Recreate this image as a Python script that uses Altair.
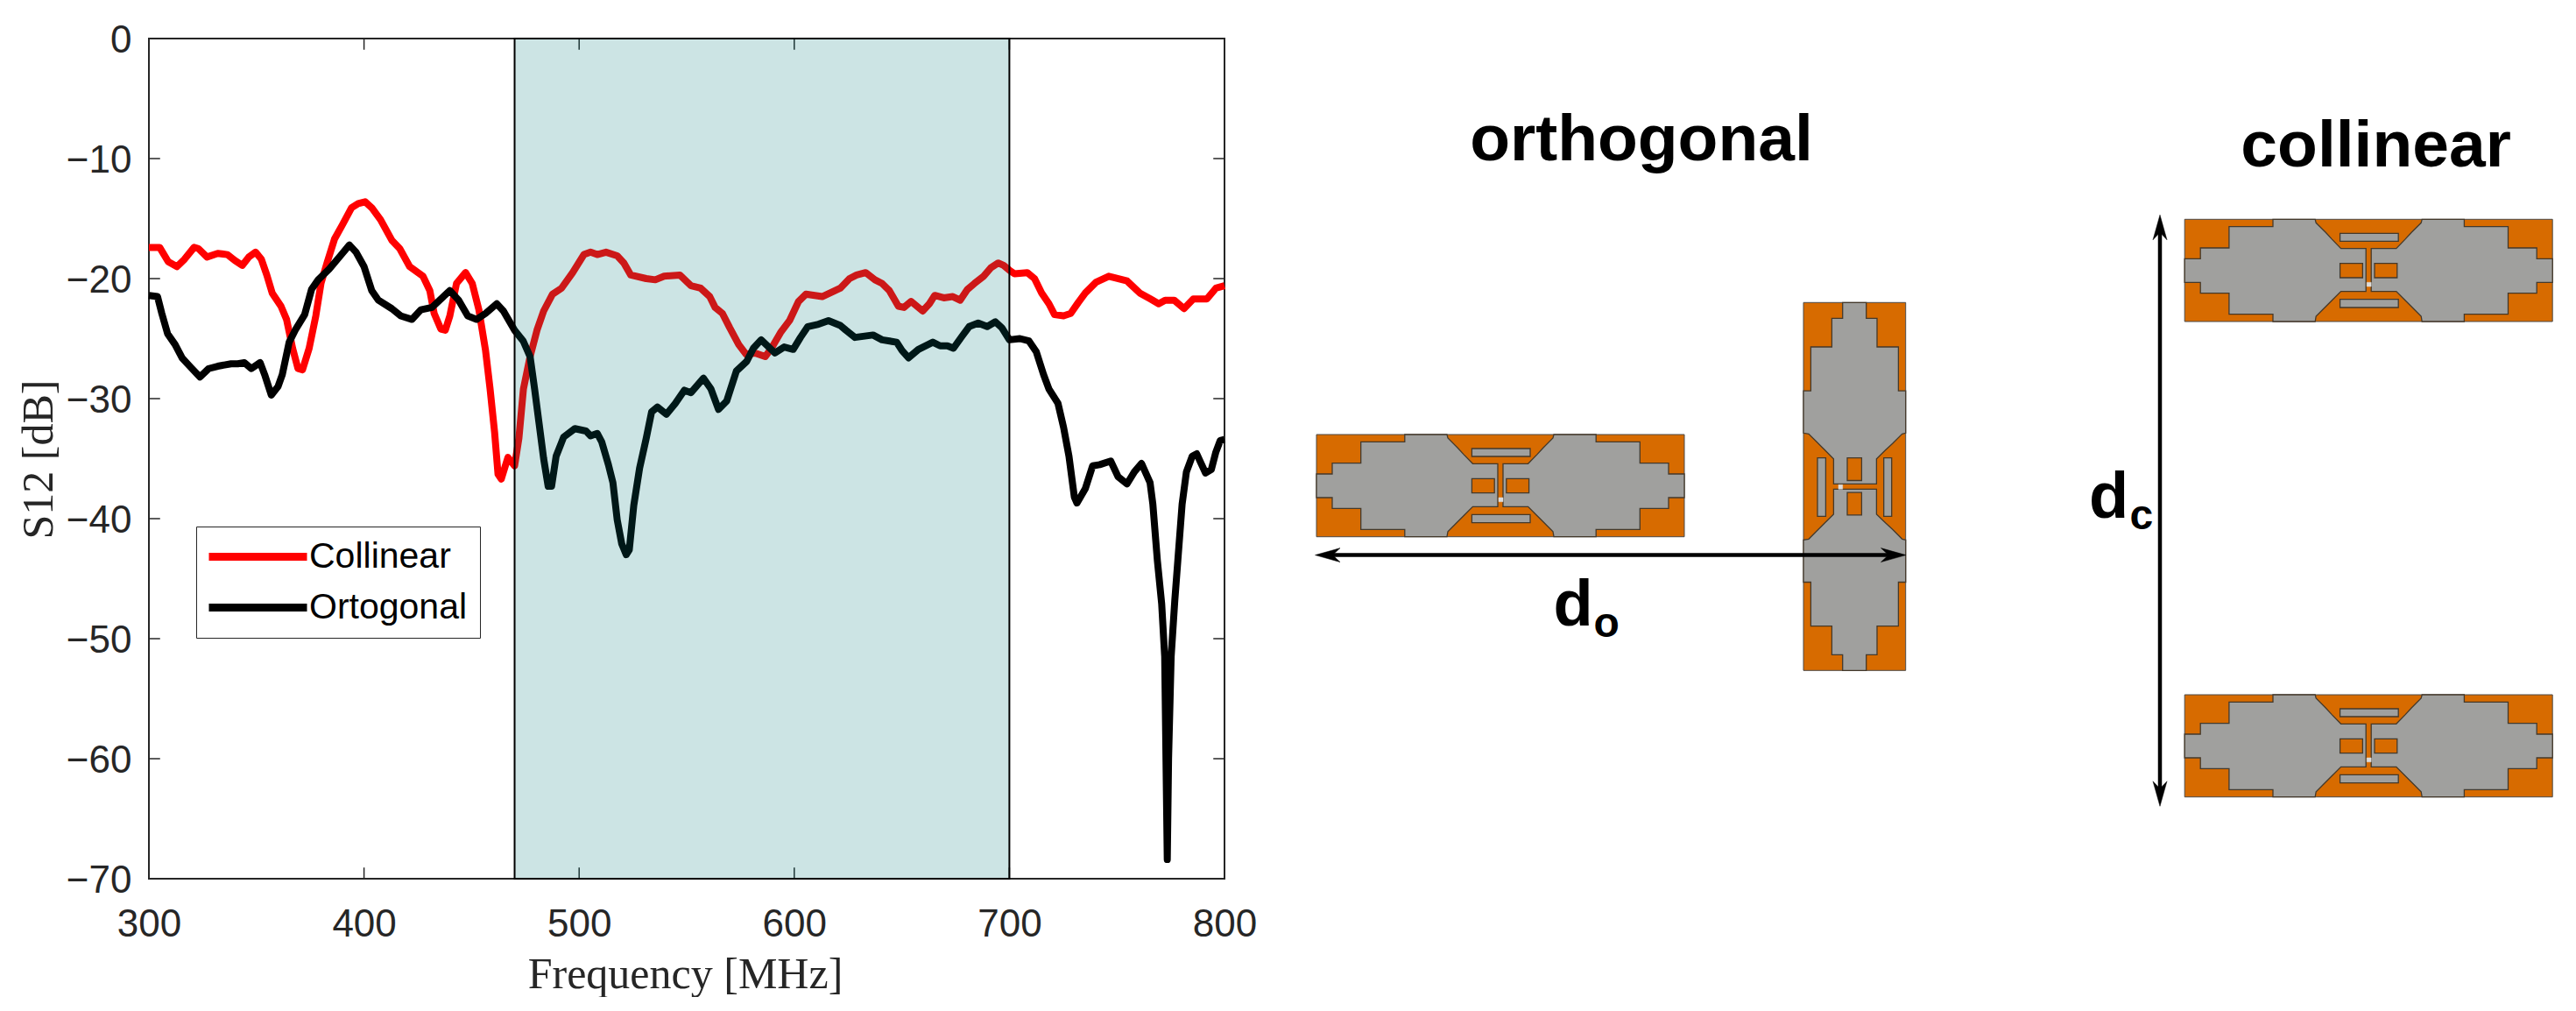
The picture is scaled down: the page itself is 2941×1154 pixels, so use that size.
import altair as alt
import pandas as pd

# ---------- measured curves ----------
col_f = [300,305,309,313,316.5,321,323,327,332,336.5,340,343.4,346.5,349.6,352.3,354.8,357.3,361.4,364,366.8,369.3,371.4,374.5,377.6,380,382.8,386.3,390,394.2,397.3,400.5,403.6,407.7,412.9,416.6,421.2,427.4,430.6,432.6,435.7,437.8,439.9,443,447.2,450.3,453.4,456.5,458.6,460.7,462.3,463.8,466.9,470,472,474.1,477.2,480.4,483.5,487.6,491.8,497,502.2,505.3,508.4,512.5,517.7,520.8,524,531.2,535.4,539.5,546.8,552,556.5,560.7,563.2,566.6,570,574.2,577.6,581.8,586.5,589.4,593.6,597.8,602,605.4,613,621.4,625.7,629,633.2,637.5,640.8,644.2,648.4,651,654.3,659.7,662.8,665.3,669.5,673.7,677.1,680.5,683.8,688,691.4,694.8,697.3,700,702.4,708.3,711.7,715,718.4,721,725.2,728.5,732,735.3,740.3,746.2,754.7,760.6,765.6,769.4,772.4,776.6,781.2,785.5,791.8,796,800]
col_db = [-17.4,-17.4,-18.6,-19.0,-18.4,-17.4,-17.5,-18.2,-17.9,-18.0,-18.5,-18.9,-18.2,-17.8,-18.4,-19.7,-21.2,-22.3,-23.4,-25.8,-27.5,-27.6,-25.8,-23.1,-20.4,-18.7,-16.7,-15.5,-14.1,-13.75,-13.6,-14.1,-15.1,-16.8,-17.5,-19.0,-19.8,-21,-22.9,-24.2,-24.3,-23.1,-20.4,-19.5,-20.4,-22.6,-26,-29.2,-32.8,-36.3,-36.7,-34.9,-35.6,-33.3,-29.2,-26.5,-24.3,-22.7,-21.3,-20.8,-19.5,-18,-17.8,-18,-17.8,-18.1,-18.7,-19.7,-20,-20.1,-19.8,-19.7,-20.6,-20.8,-21.5,-22.4,-22.9,-24.1,-25.5,-26.3,-26.2,-26.5,-25.8,-24.5,-23.5,-21.9,-21.3,-21.5,-20.8,-20,-19.7,-19.5,-20.1,-20.4,-21,-22.3,-22.4,-21.9,-22.7,-22.1,-21.4,-21.6,-21.5,-21.8,-20.9,-20.4,-19.8,-19.1,-18.7,-18.9,-19.3,-19.6,-19.5,-20,-21.2,-22.1,-23,-23.1,-22.9,-22,-21.2,-20.3,-19.8,-20.2,-21.2,-21.7,-22.1,-21.8,-21.8,-22.5,-21.7,-21.7,-20.8,-20.6]
ort_f = [300,304,306,308.7,312.2,315.4,319.5,323.7,327.8,332,338.2,341.3,344.4,347.6,351.7,353.8,356.9,360,362,365.2,368.3,372.4,375.6,378.7,383.8,389,393.2,396.3,400,403.6,406.7,412.9,417,422.3,426.4,431.6,435.7,439.9,444,448.2,452.3,456.5,461.7,464.8,470,474,477.2,479.3,481.4,483.5,485.6,487.2,489.3,492.8,498,503.2,505.3,508.4,510.5,513.6,515.7,517.7,519.8,521.9,523.3,525.4,528.1,531.2,533.7,536.4,540.6,544.7,548.9,552,557.8,561.3,564.8,568.6,573.1,577.9,581,584.6,591,595.3,599.5,602.9,606.3,611.3,615.9,621.4,624,628.2,636.6,640.8,647.6,650.1,653.1,657.7,664.4,667.8,671.2,674,678,681.3,685.5,689.7,693.5,696.5,700,704.9,709.1,712.5,715.9,718.4,722.6,725.2,727.7,730.2,731.4,735.3,738.7,742,747.1,750.5,754.7,758.1,761.4,765.4,766.7,768.8,770.8,772.2,772.8,773.4,774,775.2,776.9,778.3,780.3,782.3,785,787.1,789.1,791.2,793.9,795.9,798,800]
ort_db = [-21.4,-21.5,-22.9,-24.6,-25.5,-26.6,-27.4,-28.2,-27.5,-27.3,-27.1,-27.1,-27,-27.5,-27,-28,-29.7,-29,-28,-25.3,-24.2,-23,-20.9,-20.1,-19.2,-18.1,-17.2,-17.8,-19,-21,-21.8,-22.5,-23.1,-23.4,-22.6,-22.4,-21.7,-21,-21.8,-23.1,-23.4,-22.9,-22.1,-22.7,-24.3,-25.2,-26.5,-29.2,-32.1,-35,-37.3,-37.3,-34.8,-33.2,-32.5,-32.7,-33.1,-32.9,-33.6,-35.5,-37,-40.1,-42.1,-43,-42.6,-38.9,-35.8,-33.3,-31.1,-30.7,-31.3,-30.4,-29.3,-29.5,-28.3,-29.2,-30.9,-30.2,-27.7,-26.9,-25.8,-25.1,-26.2,-25.7,-25.9,-24.9,-24,-23.8,-23.5,-23.9,-24.3,-24.9,-24.7,-25.1,-25.3,-26,-26.6,-25.9,-25.3,-25.6,-25.6,-25.8,-24.8,-24,-23.7,-24,-23.6,-24.1,-25.1,-25,-25.2,-26.1,-28,-29.2,-30.4,-32.4,-34.8,-38.2,-38.7,-37.5,-35.6,-35.5,-35.2,-36.5,-37.1,-36.1,-35.4,-37,-38.8,-43.5,-47.1,-51.5,-60,-68.4,-60,-51.5,-46.8,-43.5,-38.8,-36.1,-34.8,-34.6,-35.4,-36.2,-35.9,-34.5,-33.5,-33.4]

x_ticks = [300, 400, 500, 600, 700, 800]
y_ticks = [0, -10, -20, -30, -40, -50, -60, -70]
band = [470, 700]
series_names = ["Collinear", "Ortogonal"]
series_colors = ["#ff0000", "#000000"]

AX = "#262626"
SANS = "Liberation Sans"
SERIF = "Liberation Serif"
W, H = 1228, 959
TICK_DB = 0.93     # inward tick length in dB
TICK_MHZ = 5.2     # inward tick length in MHz

curves = pd.concat([
    pd.DataFrame({"f": col_f, "db": col_db, "s": series_names[0]}),
    pd.DataFrame({"f": ort_f, "db": ort_db, "s": series_names[1]}),
])
xs = alt.Scale(domain=[300, 800], nice=False, zero=False)
ys = alt.Scale(domain=[-70, 0], nice=False, zero=False)

lines = alt.Chart(curves).mark_line(strokeWidth=8, strokeJoin="round").encode(
    x=alt.X("f:Q", scale=xs, title="Frequency [MHz]", axis=alt.Axis(
        values=x_ticks, ticks=False, domain=False, grid=False, labelFont=SANS, labelFontSize=44,
        labelColor=AX, labelPadding=30, labelOverlap=False, labelFlush=False, titleFont=SERIF,
        titleFontSize=50, titleFontWeight="normal", titleColor=AX, titleBaseline="alphabetic",
        titleX=612, titleY=124)),
    y=alt.Y("db:Q", scale=ys, title="S12 [dB]", axis=alt.Axis(
        values=y_ticks, ticks=False, domain=False, grid=False, labelFont=SANS, labelFontSize=44,
        labelColor=AX, labelPadding=20, labelOverlap=False, labelFlush=False, labelOffset=2,
        titleFont=SERIF, titleFontSize=50, titleFontWeight="normal", titleColor=AX,
        titleBaseline="alphabetic", titleX=-110.5, titleY=480)),
    color=alt.Color("s:N", scale=alt.Scale(domain=series_names, range=series_colors), legend=alt.Legend(
        orient="none", legendX=54, legendY=557, title=None, fillColor="white", strokeColor=AX,
        padding=14, labelFont=SANS, labelFontSize=41, labelColor="black", labelLimit=400,
        symbolType="M-5.6,0H5.6", symbolSize=400, symbolStrokeWidth=9, symbolOffset=36,
        labelOffset=38, rowPadding=16, labelBaseline="middle")),
    detail="s:N",
)

shade = alt.Chart(pd.DataFrame({"a": [band[0]], "b": [band[1]], "lo": [-70], "hi": [0]})).mark_rect(
    fill="#007878", fillOpacity=0.2, stroke="black", strokeWidth=2, strokeOpacity=1
).encode(x=alt.X("a:Q", scale=xs), x2="b:Q", y=alt.Y("lo:Q", scale=ys), y2="hi:Q")

def tick_rows():
    rows = []
    for v in x_ticks[1:-1]:
        rows += [dict(x=v, x2=v, y=-70, y2=-70 + TICK_DB), dict(x=v, x2=v, y=0, y2=-TICK_DB)]
    for v in y_ticks[1:-1]:
        rows += [dict(x=300, x2=300 + TICK_MHZ, y=v, y2=v), dict(x=800, x2=800 - TICK_MHZ, y=v, y2=v)]
    return pd.DataFrame(rows)

ticks = alt.Chart(tick_rows()).mark_rule(color=AX, strokeWidth=1.5).encode(
    x=alt.X("x:Q", scale=xs), x2="x2:Q", y=alt.Y("y:Q", scale=ys), y2="y2:Q")

left = alt.layer(ticks, lines, shade).properties(
    width=W, height=H, view=alt.ViewBackground(stroke=AX, strokeWidth=2))

# ---------- antenna template (units: px of the drawing, length 420 x depth 116.7) ----------
ANT_L, ANT_D = 420.0, 116.7
wing_u = [0,18,18,50.7,50.7,100.8,100.8,149,150,161,168,178.4,207,207,178.4,168,158,150,149,100.8,100.8,50.7,50.7,18,18,0]
wing_v = [45,45,32.7,32.7,8.3,8.3,0,0,4,15,22.6,33.3,33.3,82.3,82.3,92.7,102.7,110.7,116.7,116.7,108.3,108.3,84.3,84.3,72,72]
square_u = [177.4, 203.2]
square_v = [50.3, 66.7]
slot_u = [177.4, 244]
slot_top_v = [16, 25]
slot_bot_v = [91.3, 100.7]
gap_u = [208, 213]
gap_v = [72, 76.7]
# placements: left/top corner on the sheet and whether the element is turned upright
placements = [(1503, 495.7, False), (2059, 345, True), (2494.2, 250, False), (2494.2, 792.7, False)]

def box(u, v):
    return [u[0], u[1], u[1], u[0]], [v[0], v[0], v[1], v[1]]

def place(us, vs, p):
    x0, y0, up = p
    if up:
        return [x0 + ANT_D - v for v in vs], [y0 + u for u in us]
    return [x0 + u for u in us], [y0 + v for v in vs]

def polys(shapes):
    rows, k = [], 0
    for p in placements:
        for us, vs in shapes:
            k += 1
            px, py = place(us, vs, p)
            rows += [dict(px=a, py=b, poly=k, ord=i) for i, (a, b) in enumerate(zip(px, py))]
    return pd.DataFrame(rows)

mirror = lambda us: [ANT_L - u for u in us]
PW, PH = 1490, H
pxs = alt.Scale(domain=[1440, 1440 + PW], nice=False, zero=False)
pys = alt.Scale(domain=[43.7 + PH, 43.7], nice=False, zero=False)

def poly_layer(shapes, fill, stroke, sw):
    return alt.Chart(polys(shapes)).mark_line(
        interpolate="linear-closed", fill=fill, stroke=stroke, strokeWidth=sw, strokeJoin="miter"
    ).encode(x=alt.X("px:Q", scale=pxs, axis=None), y=alt.Y("py:Q", scale=pys, axis=None),
             detail="poly:N", order="ord:Q")

ORANGE, GREY, EDGE = "#d76b00", "#a0a09e", "#44392b"
base = poly_layer([box([0, ANT_L], [0, ANT_D])], ORANGE, "#4a4a4a", 1)
wings = poly_layer([(wing_u, wing_v), (mirror(wing_u), wing_v)], GREY, EDGE, 1.3)
squares = poly_layer([box(square_u, square_v), box(mirror(square_u)[::-1], square_v)], ORANGE, EDGE, 1.3)
slots = poly_layer([box(slot_u, slot_top_v), box(slot_u, slot_bot_v)], GREY, EDGE, 1.3)
gaps = poly_layer([box(gap_u, gap_v)], "#dcdcdc", "#dcdcdc", 0.5)

# ---------- dimension arrows ----------
HEAD_L, HEAD_N, HEAD_W = 28.5, 20, 8
arrow_h = dict(y=633.3, a=1501.5, b=2176)
arrow_v = dict(x=2466, a=245, b=920)
shaft = pd.DataFrame([
    dict(x=arrow_h["a"] + 10, x2=arrow_h["b"] - 10, y=arrow_h["y"], y2=arrow_h["y"]),
    dict(x=arrow_v["x"], x2=arrow_v["x"], y=arrow_v["a"] + 10, y2=arrow_v["b"] - 10),
])
shafts = alt.Chart(shaft).mark_rule(color="black", strokeWidth=4.5).encode(
    x=alt.X("x:Q", scale=pxs, axis=None), x2="x2:Q", y=alt.Y("y:Q", scale=pys, axis=None), y2="y2:Q")

def head_rows():
    rows = []
    for k, (tx, ty, dx, dy) in enumerate([
        (arrow_h["a"], arrow_h["y"], 1, 0), (arrow_h["b"], arrow_h["y"], -1, 0),
        (arrow_v["x"], arrow_v["a"], 0, 1), (arrow_v["x"], arrow_v["b"], 0, -1)]):
        pts = [(0, 0), (HEAD_L, HEAD_W), (HEAD_N, 0), (HEAD_L, -HEAD_W)]
        for i, (al, ac) in enumerate(pts):
            rows.append(dict(px=tx + dx * al - dy * ac, py=ty + dy * al + dx * ac, poly=k, ord=i))
    return pd.DataFrame(rows)

heads = alt.Chart(head_rows()).mark_line(
    interpolate="linear-closed", fill="black", stroke="black", strokeWidth=0.5
).encode(x=alt.X("px:Q", scale=pxs, axis=None), y=alt.Y("py:Q", scale=pys, axis=None),
         detail="poly:N", order="ord:Q")

# ---------- captions ----------
captions = pd.DataFrame([
    dict(t="orthogonal", x=1874, y=182.7, a="center", s=75),
    dict(t="collinear", x=2712.6, y=190, a="center", s=75),
    dict(t="d", x=1773.5, y=714, a="left", s=74),
    dict(t="o", x=1819.5, y=727, a="left", s=48),
    dict(t="d", x=2385, y=590.7, a="left", s=74),
    dict(t="c", x=2431.5, y=604, a="left", s=48),
])
def cap_layer(al):
    return alt.Chart(captions[captions.a == al]).mark_text(
        font=SANS, fontWeight="bold", color="black", align=al, baseline="alphabetic"
    ).encode(x=alt.X("x:Q", scale=pxs, axis=None), y=alt.Y("y:Q", scale=pys, axis=None),
             text="t:N", size=alt.Size("s:Q", scale=None))

right = alt.layer(base, wings, squares, slots, gaps, shafts, heads, cap_layer("center"), cap_layer("left")).properties(
    width=PW, height=PH, view=alt.ViewBackground(stroke=None))

chart = alt.hconcat(left, right, spacing=42, bounds="flush").properties(
    padding={"left": 10, "top": 15, "right": 0, "bottom": 0}
).configure(background="white")

chart.save("out.html", embed_options={"renderer": "svg", "actions": False})
